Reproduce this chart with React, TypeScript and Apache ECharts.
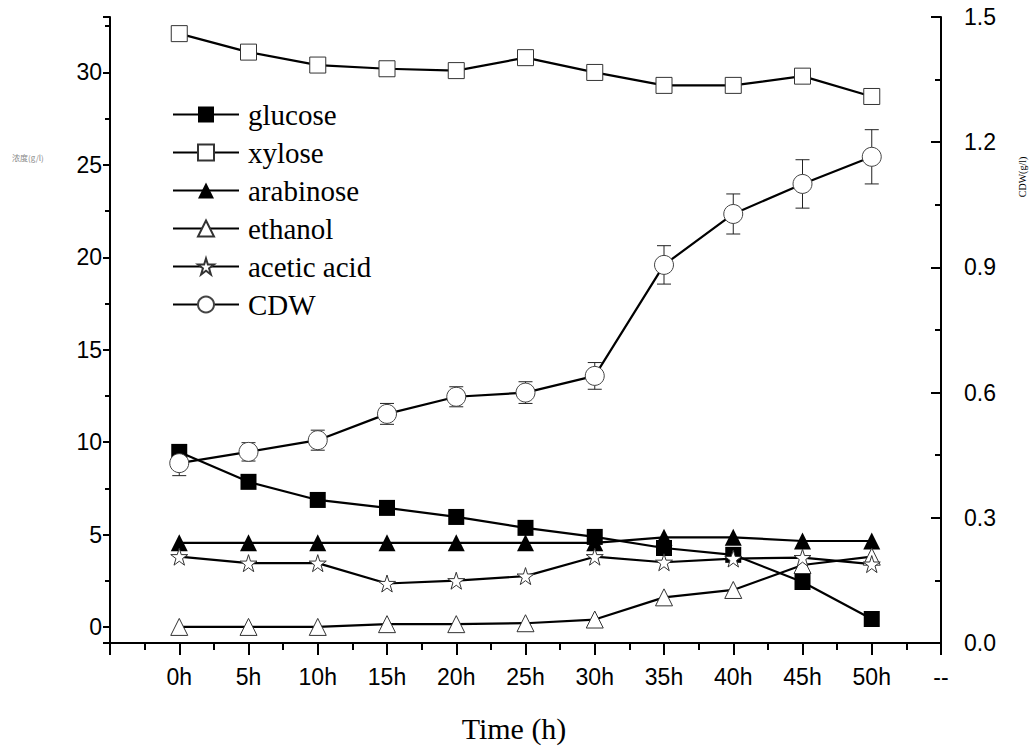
import React, { useEffect, useRef } from "react";
import * as echarts from "echarts";

const times = [0, 5, 10, 15, 20, 25, 30, 35, 40, 45, 50];
const glucose = [9.47, 7.85, 6.87, 6.44, 5.95, 5.36, 4.87, 4.27, 3.9, 2.43, 0.43];
const xylose = [32.1, 31.1, 30.4, 30.2, 30.1, 30.8, 30.0, 29.3, 29.3, 29.8, 28.7];
const arabinose = [4.55, 4.55, 4.55, 4.55, 4.55, 4.55, 4.55, 4.85, 4.85, 4.65, 4.65];
const ethanol = [0, 0, 0, 0.15, 0.15, 0.2, 0.4, 1.6, 2.0, 3.35, 3.8];
const aceticAcid = [3.8, 3.45, 3.45, 2.35, 2.5, 2.75, 3.8, 3.5, 3.7, 3.75, 3.4];
const cdw = [0.431, 0.458, 0.486, 0.549, 0.59, 0.6, 0.64, 0.906, 1.028, 1.1, 1.165];
const cdwErr = [0.03, 0.022, 0.024, 0.025, 0.024, 0.026, 0.032, 0.046, 0.048, 0.058, 0.065];

const STAR = "path://M50,2 L61,36 L97,36 L68,57 L79,92 L50,71 L21,92 L32,57 L3,36 L39,36 Z";
const SERIF = "'Liberation Serif', 'Times New Roman', serif";
const SANS = "'Liberation Sans', Arial, sans-serif";

export default function App() {
  const ref = useRef<HTMLDivElement>(null);
  useEffect(() => {
    const chart = echarts.init(ref.current!, null, { renderer: "svg" });
    const pair = (arr: number[]) => times.map((t, i) => [t, arr[i]]);
    const line = { color: "#000", width: 2.2 };
    const open = { color: "#fff", borderColor: "#333", borderWidth: 1 };
    const mk = (name: string, data: number[], symbol: string, size: number, itemStyle: any, yAxisIndex = 0) => ({
      name,
      type: "line",
      yAxisIndex,
      data: pair(data),
      symbol,
      symbolSize: size,
      itemStyle,
      lineStyle: line,
      z: 3,
    });
    chart.setOption({
      animation: false,
      backgroundColor: "#fff",
      grid: { left: 110, right: 91, top: 17, bottom: 109 },
      legend: {
        orient: "vertical",
        left: 167,
        top: 95,
        itemWidth: 66,
        itemHeight: 20,
        itemGap: 9,
        data: ["glucose", "xylose", "arabinose", "ethanol", "acetic acid", "CDW"],
        textStyle: { fontFamily: SERIF, fontSize: 29, color: "#000", padding: [0, 0, 0, 4] },
      },
      xAxis: {
        type: "value",
        min: -5,
        max: 55,
        interval: 5,
        axisLine: { onZero: false, lineStyle: { color: "#000", width: 2 } },
        axisTick: { show: true, length: 12, lineStyle: { color: "#000", width: 2 } },
        minorTick: { show: true, splitNumber: 2, length: 7, lineStyle: { color: "#000", width: 2 } },
        splitLine: { show: false },
        axisLabel: {
          margin: 22,
          fontFamily: SANS,
          fontSize: 23,
          color: "#000",
          formatter: (v: number) => (v < 0 ? "" : v > 50 ? "--" : `${v}h`),
        },
      },
      yAxis: [
        {
          type: "value",
          min: -0.87,
          max: 33,
          splitNumber: 7,
          position: "left",
          axisLine: { show: true, onZero: false, lineStyle: { color: "#000", width: 2 } },
          axisTick: { show: true, length: 7, lineStyle: { color: "#000", width: 2 } },
          minorTick: { show: true, splitNumber: 2, length: 5, lineStyle: { color: "#000", width: 2 } },
          splitLine: { show: false },
          axisLabel: {
            margin: 8,
            fontFamily: SANS,
            fontSize: 23,
            color: "#000",
            showMinLabel: false,
            showMaxLabel: false,
            formatter: (v: number) => (Math.abs(v % 5) < 1e-6 ? String(v) : ""),
          },
        },
        {
          type: "value",
          min: 0,
          max: 1.5,
          interval: 0.3,
          position: "right",
          axisLine: { show: true, onZero: false, lineStyle: { color: "#000", width: 2 } },
          axisTick: { show: true, inside: true, length: 10, lineStyle: { color: "#000", width: 2 } },
          minorTick: { show: true, splitNumber: 2, length: 6, lineStyle: { color: "#000", width: 2 } },
          splitLine: { show: false },
          axisLabel: {
            margin: 23,
            fontFamily: SANS,
            fontSize: 23,
            color: "#000",
            formatter: (v: number) => v.toFixed(1),
          },
        },
      ],
      graphic: [
        {
          type: "text",
          left: 12,
          top: 153,
          style: { text: "浓度(g/l)", font: "8px 'Noto Sans CJK SC', sans-serif", fill: "#888" },
        },
        {
          type: "text",
          x: 1022,
          y: 177,
          rotation: Math.PI / 2,
          style: { text: "CDW(g/l)", font: `10px ${SERIF}`, fill: "#000", align: "center", verticalAlign: "middle" },
        },
        {
          type: "text",
          x: 514,
          y: 713,
          style: { text: "Time (h)", font: `30px ${SERIF}`, fill: "#000", align: "center", verticalAlign: "top" },
        },
      ],
      series: [
        mk("glucose", glucose, "rect", 16, { color: "#000" }),
        mk("xylose", xylose, "rect", 16, open),
        mk("arabinose", arabinose, "triangle", 17, { color: "#000" }),
        mk("ethanol", ethanol, "triangle", 17, open),
        mk("acetic acid", aceticAcid, STAR, 17, open),
        {
          type: "custom",
          name: "cdw-error",
          yAxisIndex: 1,
          z: 2,
          data: times.map((t, i) => [t, cdw[i] - cdwErr[i], cdw[i] + cdwErr[i]]),
          renderItem: (params: any, api: any) => {
            const x = api.value(0);
            const lo = api.coord([x, api.value(1)]);
            const hi = api.coord([x, api.value(2)]);
            const w = 7;
            const st = { stroke: "#222", lineWidth: 1 };
            return {
              type: "group",
              children: [
                { type: "line", shape: { x1: lo[0], y1: lo[1], x2: hi[0], y2: hi[1] }, style: st },
                { type: "line", shape: { x1: lo[0] - w, y1: lo[1], x2: lo[0] + w, y2: lo[1] }, style: st },
                { type: "line", shape: { x1: hi[0] - w, y1: hi[1], x2: hi[0] + w, y2: hi[1] }, style: st },
              ],
            };
          },
        },
        mk("CDW", cdw, "circle", 19, { color: "#fff", borderColor: "#444", borderWidth: 1 }, 1),
      ],
    });
    return () => chart.dispose();
  }, []);
  return (
    <div
      ref={ref}
      style={{ position: "absolute", left: 0, top: 0, width: 1032, height: 752, background: "#fff" }}
    />
  );
}
